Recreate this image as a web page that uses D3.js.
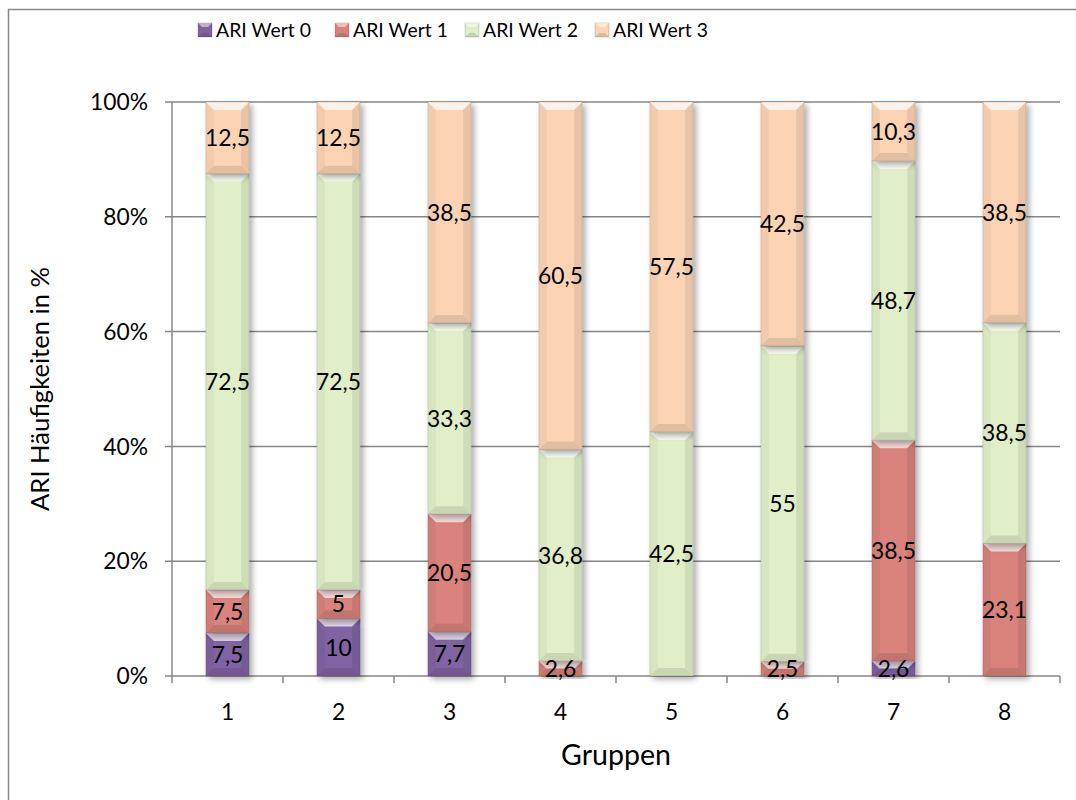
<!DOCTYPE html>
<html><head><meta charset="utf-8">
<script src="https://cdn.jsdelivr.net/npm/d3@7"></script>
<style>
html,body{margin:0;padding:0;background:#fff;}
svg{display:block;font-family:Lato,"Open Sans",sans-serif;}
</style></head>
<body>
<svg id="chart" width="1076" height="800"></svg>
<script>
const groups = ["1","2","3","4","5","6","7","8"];
const seriesNames = ["ARI Wert 0","ARI Wert 1","ARI Wert 2","ARI Wert 3"];
const wert0 = [7.5,10,7.7,0,0,0,2.6,0];
const wert1 = [7.5,5,20.5,2.6,0,2.5,38.5,23.1];
const wert2 = [72.5,72.5,33.3,36.8,42.5,55,48.7,38.5];
const wert3 = [12.5,12.5,38.5,60.5,57.5,42.5,10.3,38.5];
const colors = ["#8064A2","#D9837C","#E1EFC8","#FCD4B3"];
const yTicks = [0,20,40,60,80,100];

const svg = d3.select("#chart");
const m = {left:172, right:1060, top:102, bottom:676};

function fitSize(sample, target, base){
  const t = svg.append("text").attr("font-size",base).text(sample);
  const w = t.node().getComputedTextLength();
  t.remove();
  return base*target/w;
}
const tickFs = fitSize("100%",58,20);
const valFs = fitSize("72,5",45,20);
const legFs = fitSize("ARI Wert 0",95,20);
const yTitleFs = fitSize("ARI Häufigkeiten in %",244,20);
const xTitleFs = fitSize("Gruppen",110,20);

svg.append("rect").attr("x",8.5).attr("y",9.5).attr("width",1100).attr("height",1000)
  .attr("fill","none").attr("stroke","#868686").attr("stroke-width",1.5);

const defs = svg.append("defs");
const f = defs.append("filter").attr("id","sh").attr("x","-30%").attr("y","-10%").attr("width","170%").attr("height","130%");
f.append("feGaussianBlur").attr("in","SourceAlpha").attr("stdDeviation",3);
f.append("feOffset").attr("dx",3).attr("dy",3).attr("result","b");
f.append("feComponentTransfer").append("feFuncA").attr("type","linear").attr("slope",0.35);
const mg = f.append("feMerge"); mg.append("feMergeNode"); mg.append("feMergeNode").attr("in","SourceGraphic");

const x = d3.scaleBand().domain(groups).range([m.left,m.right]).paddingInner(0.61).paddingOuter(0.305);
const xTickScale = d3.scaleLinear().domain([0,groups.length]).range([m.left,m.right]);
const y = d3.scaleLinear().domain([0,100]).range([m.bottom,m.top]);

svg.append("g").selectAll("line").data(yTicks).join("line")
  .attr("x1",m.left-7).attr("x2",m.right).attr("y1",d=>y(d)).attr("y2",d=>y(d))
  .attr("stroke","#868686").attr("stroke-width",1.5);
svg.append("line").attr("x1",m.left).attr("x2",m.left).attr("y1",m.top).attr("y2",m.bottom)
  .attr("stroke","#868686").attr("stroke-width",1.5);
svg.append("g").selectAll("line").data(d3.range(groups.length+1)).join("line")
  .attr("x1",d=>xTickScale(d)).attr("x2",d=>xTickScale(d)).attr("y1",m.bottom).attr("y2",m.bottom+7)
  .attr("stroke","#868686").attr("stroke-width",1.5);
svg.append("g").selectAll("text").data(yTicks).join("text")
  .attr("x",148).attr("y",d=>y(d)).attr("dy","0.36em").attr("text-anchor","end")
  .attr("font-size",tickFs).attr("fill","#000").text(d=>d+"%");
svg.append("g").selectAll("text").data(groups).join("text")
  .attr("x",d=>x(d)+x.bandwidth()/2).attr("y",712).attr("dy","0.36em").attr("text-anchor","middle")
  .attr("font-size",tickFs).attr("fill","#000").text(d=>d);

const table = groups.map((g,i)=>({g, s0:wert0[i], s1:wert1[i], s2:wert2[i], s3:wert3[i]}));
const stack = d3.stack().keys(["s0","s1","s2","s3"]).offset(d3.stackOffsetExpand);
const layers = stack(table);
const allVals = [wert0,wert1,wert2,wert3];

const bw = x.bandwidth();
const bv = 8;
const barsG = svg.append("g");
layers.forEach((layer,li)=>{
  layer.forEach((d,gi)=>{
    const val = allVals[li][gi];
    if(val<=0) return;
    const x0 = x(groups[gi]), x1 = x0+bw;
    const yTop = y(d[1]*100), yBot = y(d[0]*100);
    const h = yBot-yTop;
    const b = Math.min(bv, h/2);
    const g = barsG.append("g");
    g.append("rect").attr("x",x0).attr("y",yTop).attr("width",bw).attr("height",h)
      .attr("fill",colors[li]).attr("filter","url(#sh)");
    g.append("path").attr("d",`M${x0},${yTop}L${x1},${yTop}L${x1-b},${yTop+b}L${x0+b},${yTop+b}Z`)
      .attr("fill","#fff").attr("opacity",0.7);
    g.append("path").attr("d",`M${x0},${yBot}L${x1},${yBot}L${x1-b},${yBot-b}L${x0+b},${yBot-b}Z`)
      .attr("fill","#000").attr("opacity",0.1);
    g.append("path").attr("d",`M${x0},${yTop}L${x0+b},${yTop+b}L${x0+b},${yBot-b}L${x0},${yBot}Z`)
      .attr("fill","#000").attr("opacity",0.04);
    g.append("path").attr("d",`M${x1},${yTop}L${x1-b},${yTop+b}L${x1-b},${yBot-b}L${x1},${yBot}Z`)
      .attr("fill","#000").attr("opacity",0.08);
    g.append("rect").attr("x",x0).attr("y",yTop).attr("width",bw).attr("height",h)
      .attr("fill","none").attr("stroke","#000").attr("stroke-opacity",0.12).attr("stroke-width",1);
  });
});
const lblG = svg.append("g");
layers.forEach((layer,li)=>{
  layer.forEach((d,gi)=>{
    const val = allVals[li][gi];
    if(val<=0) return;
    lblG.append("text").attr("x",x(groups[gi])+bw/2).attr("y",(y(d[0]*100)+y(d[1]*100))/2)
      .attr("dy","0.36em").attr("text-anchor","middle").attr("font-size",valFs).attr("fill","#000")
      .text(String(val).replace(".",","));
  });
});

svg.append("text").attr("transform","translate(40,389) rotate(-90)").attr("text-anchor","middle")
  .attr("dy","0.36em").attr("font-size",yTitleFs).text("ARI Häufigkeiten in %");
svg.append("text").attr("x",616).attr("y",755).attr("text-anchor","middle").attr("dy","0.36em")
  .attr("font-size",xTitleFs).text("Gruppen");

const legX = [198,335,465,595];
const lg = svg.append("g");
seriesNames.forEach((n,i)=>{
  const gx = legX[i], gy = 23, s = 14;
  lg.append("rect").attr("x",gx).attr("y",gy).attr("width",s).attr("height",s).attr("fill",colors[i])
    .attr("stroke","#000").attr("stroke-opacity",0.15);
  lg.append("path").attr("d",`M${gx},${gy}L${gx+s},${gy}L${gx+s-4},${gy+4}L${gx+4},${gy+4}Z`).attr("fill","#fff").attr("opacity",0.5);
  lg.append("path").attr("d",`M${gx},${gy+s}L${gx+s},${gy+s}L${gx+s-4},${gy+s-4}L${gx+4},${gy+s-4}Z`).attr("fill","#000").attr("opacity",0.12);
  lg.append("text").attr("x",gx+18).attr("y",gy+s/2).attr("dy","0.36em").attr("font-size",legFs).text(n);
});
</script>
</body></html>
